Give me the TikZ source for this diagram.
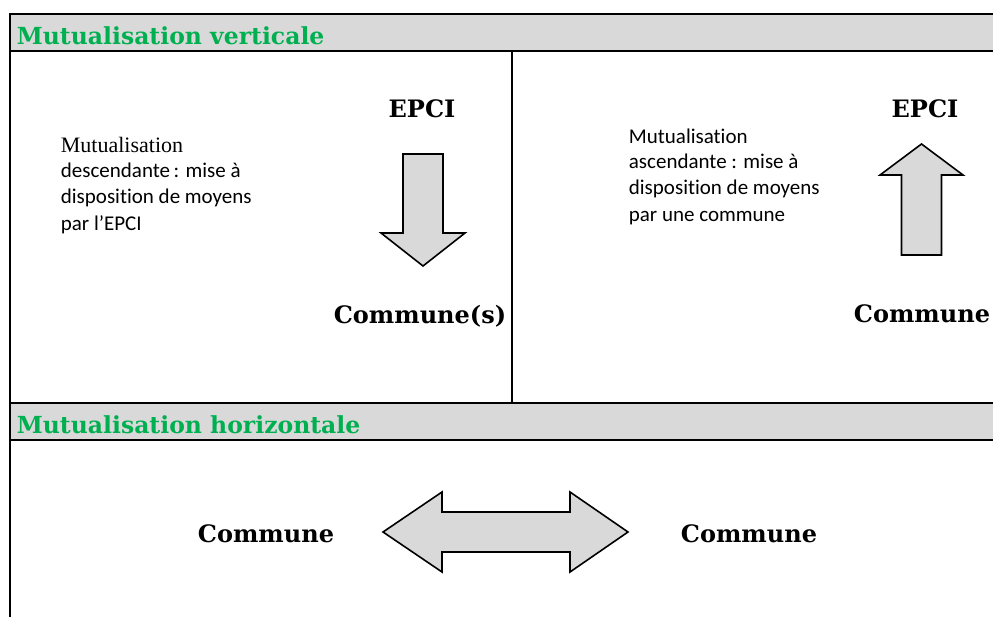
\documentclass[tikz,border=0pt]{standalone}
\usepackage{fontspec}
\newfontfamily\titlefont{DejaVu Serif}
\newfontfamily\bodyfont{Carlito}[Ligatures=NoCommon]
\newfontfamily\plainserif{Liberation Serif}
\definecolor{headgreen}{HTML}{00B050}
\definecolor{headgray}{HTML}{D9D9D9}
\tikzstyle{every path}=[line width=1.8pt,line cap=butt,line join=miter]
\tikzstyle{headtitle}=[anchor=base west,inner sep=0pt,text=headgreen,font=\titlefont\bfseries\fontsize{23.5}{28}\selectfont]
\tikzstyle{bigword}=[anchor=base,inner sep=0pt,font=\titlefont\bfseries\fontsize{24}{28}\selectfont]
\tikzstyle{smalltext}=[anchor=base west,inner sep=0pt,align=left,font=\bodyfont\fontsize{21}{25.5}\selectfont]
\tikzstyle{blockarrow}=[draw=black,fill=headgray,line width=1.6pt]

\begin{document}
\begin{tikzpicture}[x=1pt,y=-1pt]
  \useasboundingbox (0,0) rectangle (993,617);
  % bandeaux
  \fill[headgray] (10,14) rectangle (993,51);
  \fill[headgray] (10,403) rectangle (993,440);
  \draw (10,617)--(10,14)--(993,14);
  \draw (10,51)--(993,51);
  \draw (10,403)--(993,403);
  \draw (10,440)--(993,440);
  \draw (512,51)--(512,403);
  \node[headtitle] (vert) at (16,45) {Mutualisation verticale};
  \node[headtitle] (horiz) at (16,433) {Mutualisation horizontale};
  % descendante
  \node[bigword] (epciL) at (422,118) {EPCI};
  \node[bigword] (communesL) at (420,324) {Commune(s)};
  \node[smalltext] (descL) at (60,231) {{\plainserif\fontsize{22}{25.5}\selectfont Mutualisation}\\descendante\,: mise à\\disposition de moyens\\[2pt]par l’EPCI};
  \draw[blockarrow] (403,154)--(443,154)--(443,233)--(465,233)--(423,266)
    --(381,233)--(403,233)--cycle;
  % ascendante
  \node[bigword] (epciR) at (925,118) {EPCI};
  \node[bigword] (communeR) at (922,323) {Commune};
  \node[smalltext] (ascR) at (628,222) {Mutualisation\\ascendante : mise à\\disposition de moyens\\[2pt]par une commune};
  \draw[blockarrow] (901.5,255)--(941.5,255)--(941.5,175)--(963,175)--(921.5,144)
    --(880,175)--(901.5,175)--cycle;
  % horizontale
  \node[bigword] (communeA) at (266,542) {Commune};
  \node[bigword] (communeB) at (749,542) {Commune};
  \draw[blockarrow] (383,532)--(442,492)--(442,512)--(570,512)--(570,492)--(628,532)
    --(570,572)--(570,552)--(442,552)--(442,572)--cycle;
\end{tikzpicture}
\end{document}
